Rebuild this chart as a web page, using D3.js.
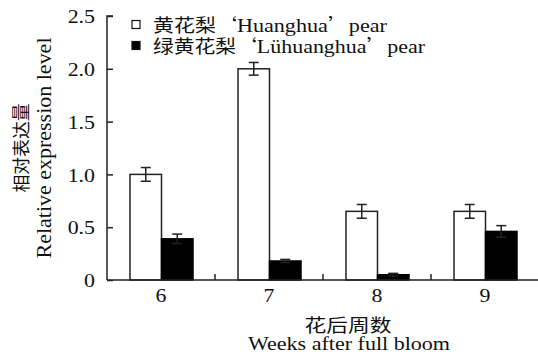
<!DOCTYPE html>
<html><head><meta charset="utf-8">
<script src="https://cdn.jsdelivr.net/npm/d3@7"></script>
<style>
html,body{margin:0;padding:0;background:#fff;}
svg{display:block;}
text{font-family:"Liberation Serif","Times New Roman","Noto Sans CJK SC",serif;fill:#111;}
.cjk{font-family:"Noto Sans CJK SC",sans-serif;}
</style></head><body>
<svg id="c" width="538" height="354"></svg>
<script>
const weeks = ["6","7","8","9"];
const huanghua = [1.0, 2.0, 0.65, 0.65];
const huanghuaErr = [0.065, 0.06, 0.065, 0.065];
const luhuanghua = [0.39, 0.18, 0.05, 0.46];
const luhuanghuaErr = [0.045, 0.015, 0.013, 0.055];
const yTicks = [0, 0.5, 1.0, 1.5, 2.0, 2.5];
// legend label parts: [Chinese name, cultivar, "pear"]
const seriesNames = [["黄花梨", "Huanghua", "pear"], ["绿黄花梨", "Lühuanghua", "pear"]];
const seriesFill = ["#fff", "#000"];

const svg = d3.select("#c");
const ink = "#222";
const x0 = 107, x1 = 539, yB = 280, yT = 16;

const y = d3.scaleLinear().domain([0, 2.5]).range([yB, yT]);
const x = d3.scaleBand().domain(weeks).range([x0, x1]);
const xi = d3.scaleBand().domain([0, 1]).range([23, 86]);

const series = [
  {vals: huanghua, err: huanghuaErr, fill: seriesFill[0]},
  {vals: luhuanghua, err: luhuanghuaErr, fill: seriesFill[1]}
];

function stretch(sel, k){
  sel.each(function(){
    const l = this.getComputedTextLength();
    this.setAttribute("textLength", l * k);
    this.setAttribute("lengthAdjust", "spacingAndGlyphs");
  });
}

series.forEach((s, si) => {
  const g = svg.append("g");
  g.selectAll("rect").data(weeks).enter().append("rect")
    .attr("x", d => x(d) + xi(si))
    .attr("y", (d, i) => y(s.vals[i]))
    .attr("width", xi.bandwidth())
    .attr("height", (d, i) => yB - y(s.vals[i]))
    .attr("fill", s.fill)
    .attr("stroke", si === 0 ? ink : "#000")
    .attr("stroke-width", 1.5);
});
series.forEach((s, si) => {
  const g = svg.append("g").attr("stroke", ink).attr("stroke-width", 1.5).attr("fill", "none");
  weeks.forEach((d, i) => {
    const cx = x(d) + xi(si) + xi.bandwidth() / 2;
    const hi = y(s.vals[i] + s.err[i]), lo = y(s.vals[i] - s.err[i]);
    g.append("line").attr("x1", cx).attr("x2", cx).attr("y1", hi).attr("y2", lo);
    g.append("line").attr("x1", cx - 5).attr("x2", cx + 5).attr("y1", hi).attr("y2", hi);
    g.append("line").attr("x1", cx - 5).attr("x2", cx + 5).attr("y1", lo).attr("y2", lo);
  });
});

// Y axis
const yAxis = d3.axisRight(y).tickValues(yTicks).tickSize(6)
  .tickFormat(d => d === 0 ? "0" : d3.format(".1f")(d));
const ya = svg.append("g").attr("transform", `translate(${x0},0)`).call(yAxis);
ya.select(".domain").attr("d", `M6,${yT}H0V${yB}`).attr("stroke", ink).attr("stroke-width", 1.5);
ya.selectAll(".tick line").attr("stroke", ink).attr("stroke-width", 1.5);
ya.selectAll(".tick text").attr("x", -12).attr("text-anchor", "end")
  .attr("dy", "0.35em").style("font-size", "19px").attr("fill", "#111");
stretch(ya.selectAll(".tick text"), 1.15);

// X axis
const xAxis = d3.axisBottom(x).tickSize(0).tickPadding(8);
const xa = svg.append("g").attr("transform", `translate(0,${yB})`).call(xAxis);
xa.select(".domain").attr("stroke", ink).attr("stroke-width", 1.5).attr("d", `M${x0},0H${x1}`);
xa.selectAll(".tick text").style("font-size", "19px").attr("fill", "#111").attr("dy", "0.72em")
  .style("font-family", "'Liberation Serif',serif");
stretch(xa.selectAll(".tick text"), 1.15);
xa.selectAll(".bt").data(weeks.slice(1)).enter().append("line")
  .attr("x1", d => x(d)).attr("x2", d => x(d)).attr("y1", 0).attr("y2", -6)
  .attr("stroke", ink).attr("stroke-width", 1.5);

// Axis titles
svg.append("text").attr("class", "cjk").attr("x", 348).attr("y", 332)
  .attr("text-anchor", "middle").style("font-size", "18px").text("花后周数")
  .attr("textLength", 87).attr("lengthAdjust", "spacingAndGlyphs");
svg.append("text").attr("x", 349).attr("y", 350)
  .attr("text-anchor", "middle").style("font-size", "19px").text("Weeks after full bloom")
  .attr("textLength", 202).attr("lengthAdjust", "spacingAndGlyphs");

svg.append("text").attr("class", "cjk")
  .attr("transform", "translate(28,148) rotate(-90)")
  .attr("text-anchor", "middle").style("font-size", "18px").text("相对表达量")
  .attr("textLength", 89).attr("lengthAdjust", "spacingAndGlyphs");
svg.append("text")
  .attr("transform", "translate(51,148) rotate(-90)")
  .attr("text-anchor", "middle").style("font-size", "21px").text("Relative expression level")
  .attr("textLength", 221).attr("lengthAdjust", "spacingAndGlyphs");

// Legend
const legW = [234, 272];
const lg = svg.append("g");
seriesNames.forEach((n, i) => {
  const by = 32 + i * 21;
  lg.append("rect").attr("x", 132).attr("y", by - 11.5).attr("width", 8).attr("height", 8)
    .attr("fill", seriesFill[i]).attr("stroke", "#111").attr("stroke-width", 1.2);
  const t = lg.append("text").attr("x", 153).attr("y", by).style("font-size", "18px");
  t.append("tspan").attr("class", "cjk").text(n[0] + "‘");
  t.append("tspan").style("font-size", "19px").text(n[1]);
  t.append("tspan").attr("class", "cjk").text("’");
  t.append("tspan").style("font-size", "19px").text(n[2]);
  t.attr("textLength", legW[i]).attr("lengthAdjust", "spacingAndGlyphs");
});
</script>
</body></html>
